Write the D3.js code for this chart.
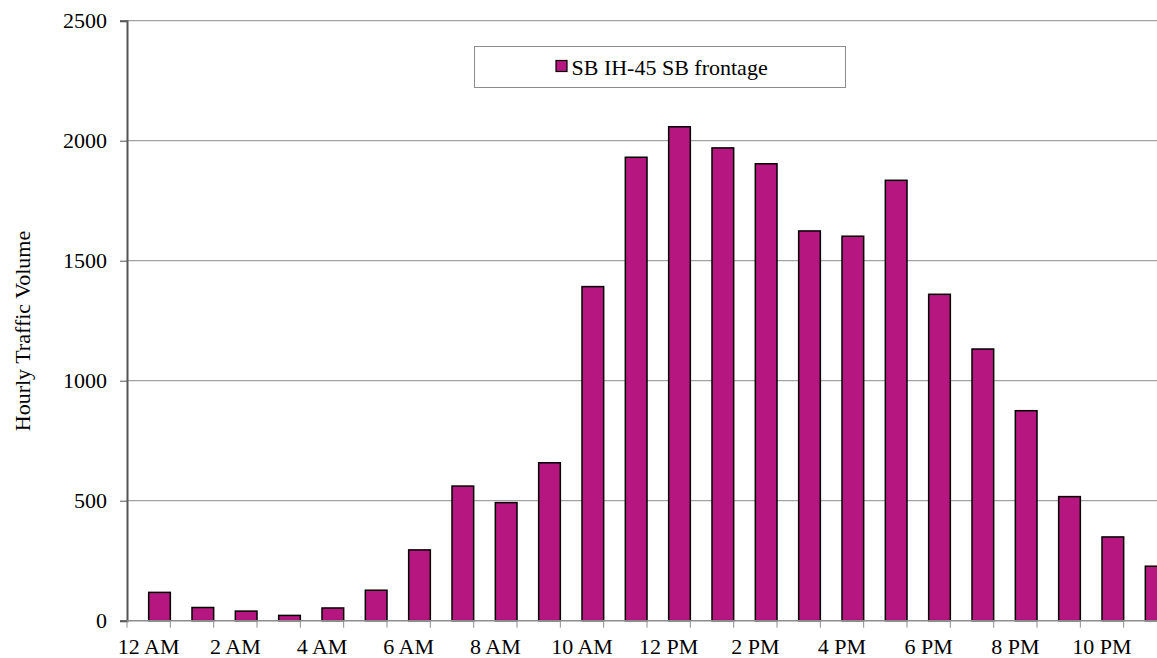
<!DOCTYPE html>
<html>
<head>
<meta charset="utf-8">
<script src="https://cdn.jsdelivr.net/npm/d3@7"></script>
<style>
html,body{margin:0;padding:0;background:#fff;overflow:hidden;}
svg{display:block;font-family:"Liberation Serif","Times New Roman",serif;}
</style>
</head>
<body>
<svg id="chart" width="1157" height="658"></svg>
<script>
const hours = ["12 AM","1 AM","2 AM","3 AM","4 AM","5 AM","6 AM","7 AM","8 AM","9 AM","10 AM","11 AM",
               "12 PM","1 PM","2 PM","3 PM","4 PM","5 PM","6 PM","7 PM","8 PM","9 PM","10 PM","11 PM"];
const volumes = [118,55,40,22,53,127,295,561,492,658,1392,1931,2058,1970,1904,1624,1602,1835,1360,1132,875,517,349,227];
const yTicks = [0,500,1000,1500,2000,2500];
const seriesName = "SB IH-45 SB frontage";

(function () {
const svg = d3.select("#chart");
const mLeft = 127, mRight = 1167, mTop = 20.7, mBottom = 620.7;
const x = d3.scaleBand().domain(hours).range([mLeft, mRight]).padding(0);
const y = d3.scaleLinear().domain([0, 2500]).range([mBottom, mTop]);
const fill = "#B5167F";

// gridlines
svg.append("g").selectAll("line").data(yTicks.filter(d => d > 0)).join("line")
  .attr("x1", mLeft).attr("x2", 1157).attr("y1", d => y(d)).attr("y2", d => y(d))
  .attr("stroke", "#8c8c8c").attr("stroke-width", 1);

// bars
const bw = x.bandwidth();
svg.append("g").selectAll("rect").data(volumes).join("rect")
  .attr("x", (d, i) => x(hours[i]) + bw * 0.5)
  .attr("width", bw * 0.5)
  .attr("y", d => y(d))
  .attr("height", d => y(0) - y(d))
  .attr("fill", fill).attr("stroke", "#000").attr("stroke-width", 1.5);

// y axis
const yAxis = svg.append("g").attr("transform", `translate(${mLeft},0)`)
  .call(d3.axisLeft(y).tickValues(yTicks).tickSize(7).tickPadding(13).tickFormat(d3.format("d")));
yAxis.select(".domain").attr("stroke", "#555").attr("stroke-width", 2);
yAxis.selectAll(".tick line").attr("stroke", "#555");
yAxis.selectAll("text").attr("font-size", 22).attr("fill", "#000").attr("font-family", "Liberation Serif");

// x axis
const xAxis = svg.append("g").attr("transform", `translate(0,${mBottom})`)
  .call(d3.axisBottom(x).tickSize(0).tickPadding(18)
    .tickFormat((d, i) => i % 2 === 0 ? d : ""));
xAxis.select(".domain").remove();
xAxis.selectAll("text").attr("font-size", 22).attr("fill", "#000").attr("font-family", "Liberation Serif");
svg.append("line").attr("x1", mLeft).attr("x2", 1157).attr("y1", mBottom).attr("y2", mBottom)
  .attr("stroke", "#8c8c8c").attr("stroke-width", 1.5);
svg.append("g").selectAll("line").data(hours).join("line")
  .attr("x1", d => x(d)).attr("x2", d => x(d))
  .attr("y1", mBottom).attr("y2", mBottom + 7)
  .attr("stroke", "#8c8c8c").attr("stroke-width", 1);

// y title
svg.append("text")
  .attr("transform", `translate(30,331) rotate(-90)`)
  .attr("text-anchor", "middle")
  .attr("font-size", 22)
  .attr("fill", "#000")
  .text("Hourly Traffic Volume");

// legend
const lg = svg.append("g");
lg.append("rect").attr("x", 474.5).attr("y", 46.5).attr("width", 371).attr("height", 41)
  .attr("fill", "#fff").attr("stroke", "#8c8c8c").attr("stroke-width", 1);
lg.append("rect").attr("x", 556).attr("y", 60.5).attr("width", 11).attr("height", 11)
  .attr("fill", fill).attr("stroke", "#000").attr("stroke-width", 1.2);
lg.append("text").attr("x", 571.5).attr("y", 74.5).attr("font-size", 22).attr("fill", "#000")
  .text(seriesName);
})();
</script>
</body>
</html>
